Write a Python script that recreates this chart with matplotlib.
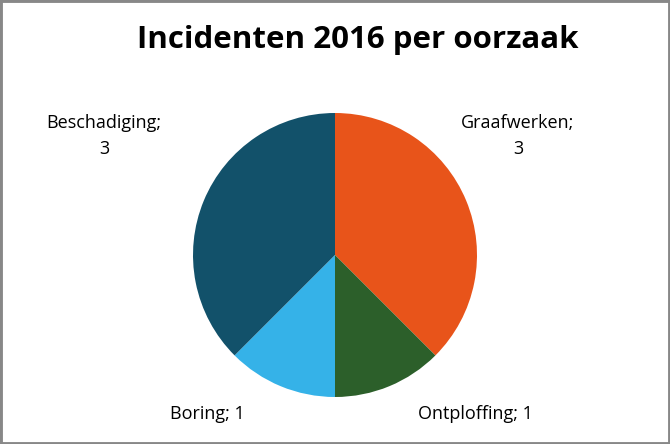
import matplotlib
matplotlib.use("Agg")
import matplotlib.pyplot as plt
from matplotlib.patches import Rectangle

# Gegevens
oorzaken = ["Graafwerken", "Ontploffing", "Boring", "Beschadiging"]
aantallen = [3, 1, 1, 3]
kleuren = ["#E8541A", "#2C5F2A", "#35B2E8", "#12516A"]

W, H = 670, 444
fig = plt.figure(figsize=(W / 100, H / 100), dpi=100)
plt.rcParams['font.family'] = ['Open Sans', 'DejaVu Sans']

# kader
fig.patches.append(Rectangle((0, 0), 1, 1, transform=fig.transFigure,
                             fill=False, edgecolor="#888888", linewidth=3.5))

cx, cy, r = 335, 255, 142
ax = fig.add_axes([(cx - r) / W, (H - cy - r) / H, 2 * r / W, 2 * r / H])
ax.pie(aantallen, colors=kleuren, startangle=90, counterclock=False,
       wedgeprops=dict(linewidth=0))
ax.set_xlim(-1, 1)
ax.set_ylim(-1, 1)
ax.set_aspect("auto")
ax.axis("off")

fig.text(358 / W, 1 - 40 / H, "Incidenten 2016 per oorzaak", ha="center", va="center",
         fontsize=22.5, fontweight="bold")

# labels
posities = [(518, 136), (475, 414), (207, 414), (104, 136)]
for naam, n, (px, py) in zip(oorzaken, aantallen, posities):
    if naam in ("Graafwerken", "Beschadiging"):
        tekst = f"{naam};\n{n}"
    else:
        tekst = f"{naam}; {n}"
    fig.text(px / W, 1 - py / H, tekst, ha="center", va="center",
             fontsize=13, linespacing=1.55)

fig.savefig("out.png", dpi=100)
